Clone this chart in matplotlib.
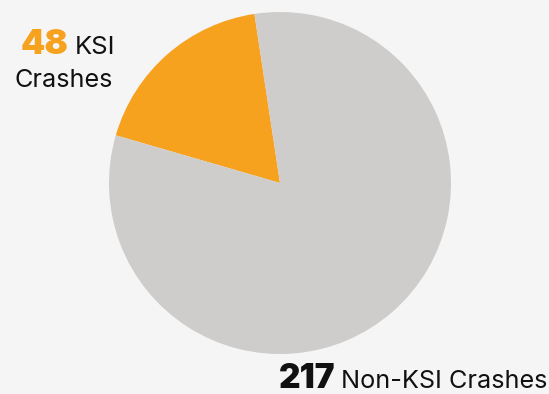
import matplotlib.pyplot as plt

# crash counts
labels = ['KSI', 'Non-KSI']
counts = [48, 217]
colors = ['#F7A21E', '#CFCDCB']

plt.rcParams['font.family'] = ['Inter', 'DejaVu Sans']

W, H = 549, 394
fig = plt.figure(figsize=(W / 100, H / 100), dpi=100, facecolor='#F5F5F5')

# pie sits at (280, 183) px with radius 171 px
cx, cy, r = 280, 183, 171
ax = fig.add_axes([(cx - r) / W, (H - cy - r) / H, 2 * r / W, 2 * r / H])
ax.set_facecolor('#F5F5F5')
ax.pie(counts, colors=colors, startangle=98.6, counterclock=True,
       wedgeprops=dict(linewidth=0))
ax.set_xlim(-1, 1)
ax.set_ylim(-1, 1)
ax.axis('off')


def px(x, y):
    return x / W, 1 - y / H


# top-left label
fig.text(*px(21, 54), str(counts[0]), color=colors[0], fontsize=25,
         fontweight='black', ha='left', va='baseline')
fig.text(*px(75, 54), 'KSI', color='#111111', fontsize=18.5,
         ha='left', va='baseline')
fig.text(*px(14, 87), 'Crashes', color='#111111', fontsize=18.2,
         ha='left', va='baseline')

# bottom-right label
fig.text(*px(279, 388), str(counts[1]), color='#111111', fontsize=24,
         fontweight='black', ha='left', va='baseline')
fig.text(*px(547, 388), 'Non-KSI Crashes', color='#111111', fontsize=18.2,
         ha='right', va='baseline')

fig.savefig('out.png', dpi=100, facecolor=fig.get_facecolor())
